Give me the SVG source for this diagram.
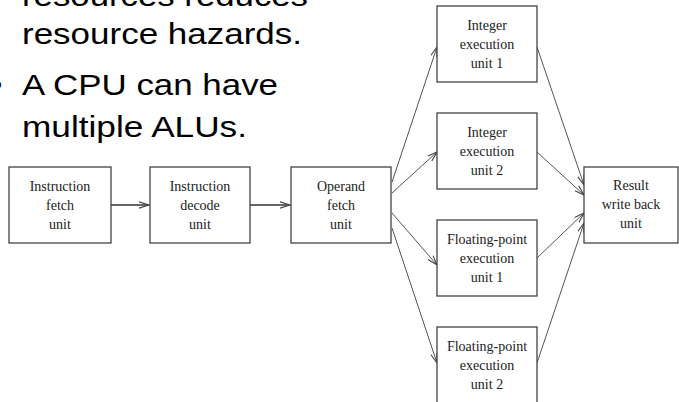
<svg xmlns="http://www.w3.org/2000/svg" width="679" height="402" viewBox="0 0 679 402">
<style>
.bx{fill:#fff;stroke:#444;stroke-width:1.3}
.t{font-family:"Liberation Serif","Times New Roman",serif;font-size:14px;fill:#222;text-anchor:middle}
.s{font-family:"Liberation Sans",Arial,sans-serif;font-size:29px;fill:#000}
.c{fill:none;stroke:#555;stroke-width:1}
.h{fill:none;stroke:#666;stroke-width:2}
</style>
<defs>
<marker id="ah" markerUnits="userSpaceOnUse" markerWidth="12" markerHeight="8" refX="10" refY="4" orient="auto">
<path d="M0,0.8 L10,4 L0,7.2" fill="none" stroke="#444" stroke-width="1.1"/>
</marker>
</defs>
<rect width="679" height="402" fill="#fff"/>
<g id="bullets">
<text class="s" x="22" y="6" textLength="286" lengthAdjust="spacingAndGlyphs">resources reduces</text>
<text class="s" x="22" y="44" textLength="280" lengthAdjust="spacingAndGlyphs">resource hazards.</text>
<text class="s" x="-8" y="95">•</text>
<text class="s" x="22" y="95" textLength="256" lengthAdjust="spacingAndGlyphs">A CPU can have</text>
<text class="s" x="22" y="137" textLength="225" lengthAdjust="spacingAndGlyphs">multiple ALUs.</text>
</g>
<g id="connectors">
<line class="h" x1="111" y1="205" x2="149" y2="205" marker-end="url(#ah)"/>
<line class="h" x1="250" y1="205" x2="290" y2="205" marker-end="url(#ah)"/>
<line class="c" x1="392" y1="182" x2="437" y2="47" marker-end="url(#ah)"/>
<line class="c" x1="392" y1="193" x2="437" y2="152" marker-end="url(#ah)"/>
<line class="c" x1="392" y1="213" x2="437" y2="265" marker-end="url(#ah)"/>
<line class="c" x1="392" y1="228" x2="437" y2="363" marker-end="url(#ah)"/>
<line class="c" x1="537" y1="47" x2="584" y2="185" marker-end="url(#ah)"/>
<line class="c" x1="537" y1="152" x2="584" y2="195" marker-end="url(#ah)"/>
<line class="c" x1="537" y1="258" x2="584" y2="213" marker-end="url(#ah)"/>
<line class="c" x1="537" y1="363" x2="584" y2="223" marker-end="url(#ah)"/>
</g>
<g id="ifetch">
<rect class="bx" x="9" y="167" width="102" height="76"/>
<text class="t" x="60" y="191">Instruction</text>
<text class="t" x="60" y="210">fetch</text>
<text class="t" x="60" y="229">unit</text>
</g>
<g id="idecode">
<rect class="bx" x="150" y="167" width="100" height="76"/>
<text class="t" x="200" y="191">Instruction</text>
<text class="t" x="200" y="210">decode</text>
<text class="t" x="200" y="229">unit</text>
</g>
<g id="ofetch">
<rect class="bx" x="291" y="167" width="100" height="76"/>
<text class="t" x="341" y="191">Operand</text>
<text class="t" x="341" y="210">fetch</text>
<text class="t" x="341" y="229">unit</text>
</g>
<g id="int1">
<rect class="bx" x="437" y="6" width="100" height="76"/>
<text class="t" x="487" y="30">Integer</text>
<text class="t" x="487" y="49">execution</text>
<text class="t" x="487" y="68">unit 1</text>
</g>
<g id="int2">
<rect class="bx" x="437" y="113" width="100" height="76"/>
<text class="t" x="487" y="137">Integer</text>
<text class="t" x="487" y="156">execution</text>
<text class="t" x="487" y="175">unit 2</text>
</g>
<g id="fp1">
<rect class="bx" x="437" y="220" width="100" height="76"/>
<text class="t" x="487" y="244">Floating-point</text>
<text class="t" x="487" y="263">execution</text>
<text class="t" x="487" y="282">unit 1</text>
</g>
<g id="fp2">
<rect class="bx" x="437" y="327" width="100" height="76"/>
<text class="t" x="487" y="351">Floating-point</text>
<text class="t" x="487" y="370">execution</text>
<text class="t" x="487" y="389">unit 2</text>
</g>
<g id="result">
<rect class="bx" x="584" y="167" width="94" height="76"/>
<text class="t" x="631" y="190">Result</text>
<text class="t" x="631" y="209">write back</text>
<text class="t" x="631" y="228">unit</text>
</g>
</svg>
